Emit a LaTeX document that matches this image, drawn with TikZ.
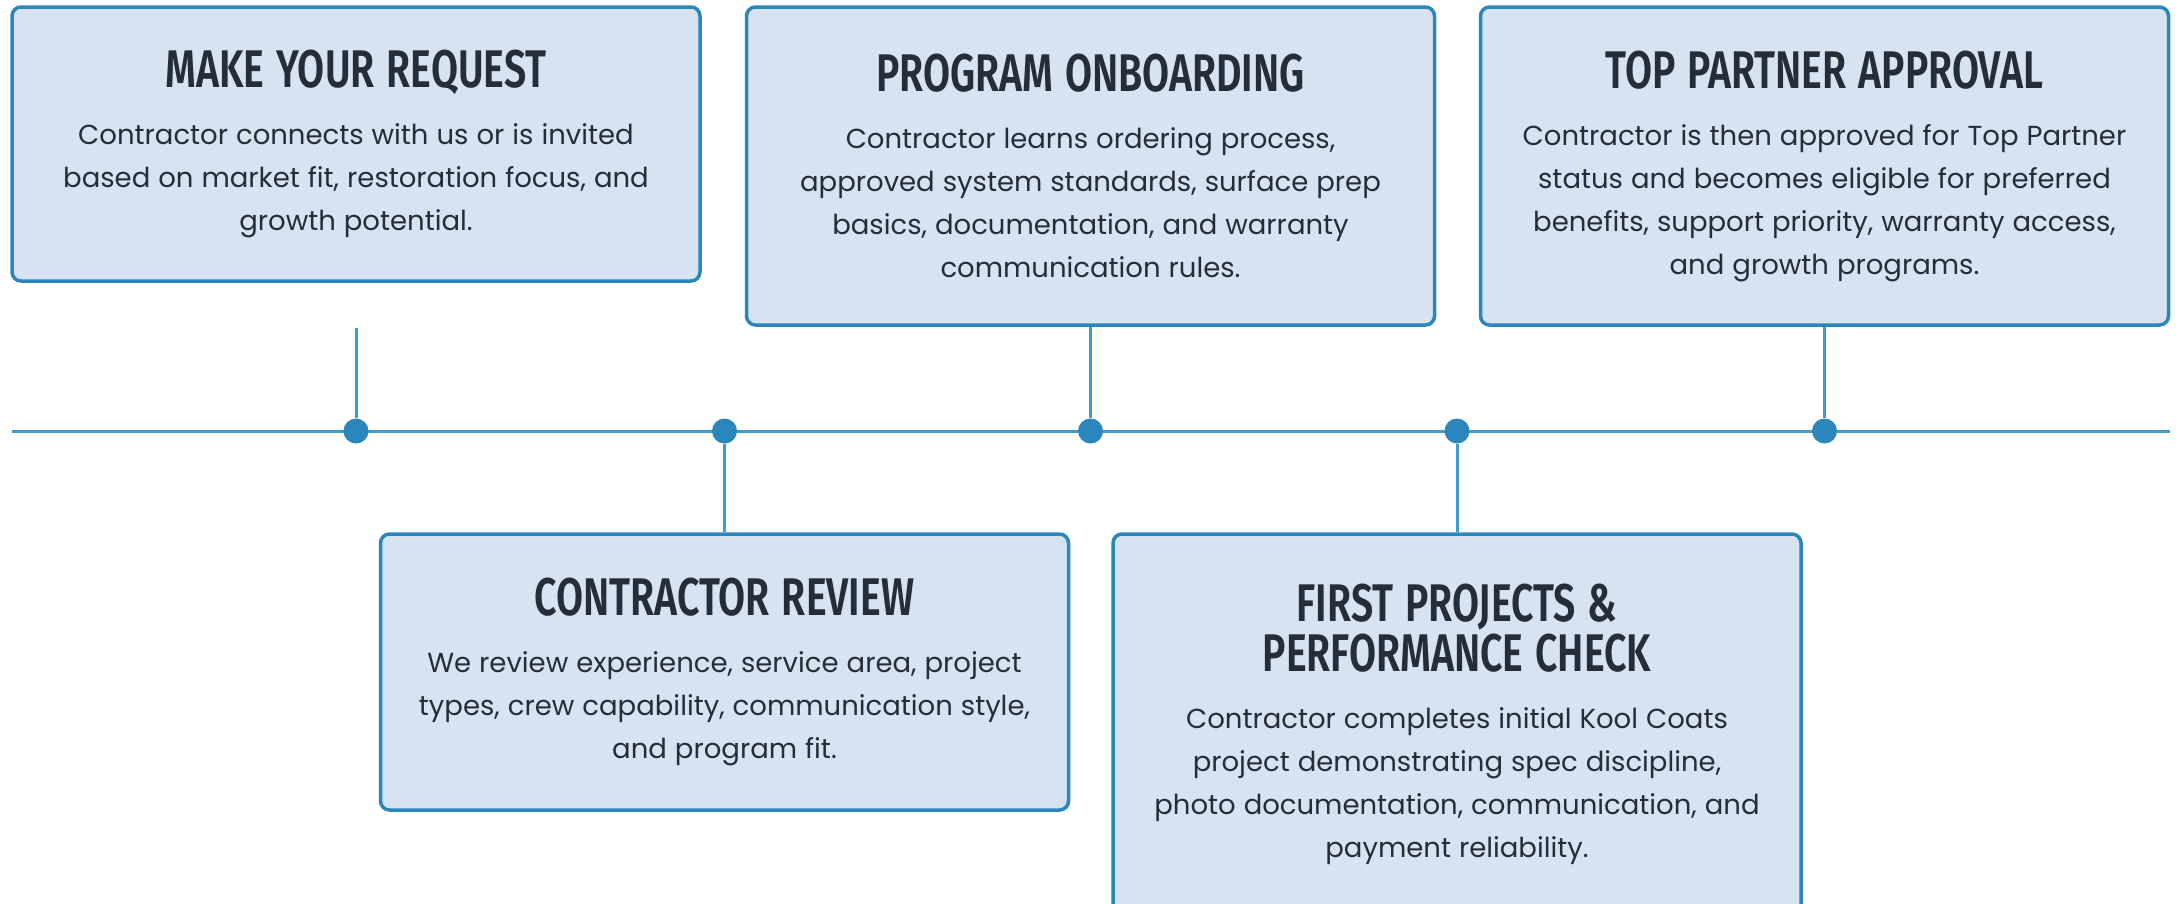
\documentclass[tikz,border=0pt]{standalone}
\usepackage{fontspec}
\setmainfont{Poppins}
\newfontfamily\headfont[FakeStretch=0.74, BoldFont={Fira Sans SemiBold}]{Fira Sans}
\definecolor{boxfill}{HTML}{D7E3F1}
\definecolor{boxline}{HTML}{2B86BC}
\definecolor{axisline}{HTML}{3D9BD2}
\definecolor{inkdark}{HTML}{252D3A}

\newcommand{\steptitle}[1]{{\headfont\bfseries\fontsize{53}{50}\selectfont\spaceskip=12pt #1\par}}
\newcommand{\stepbody}[1]{{\vspace{14pt}\fontsize{27.5}{43}\selectfont\spaceskip=8pt #1\par}}

\tikzset{
  stepbox/.style={draw=boxline, line width=3.5pt, fill=boxfill, rounded corners=9pt,
    minimum width=688pt, text width=670pt, align=center, text=inkdark, inner sep=0pt},
  stem/.style={draw=axisline, line width=3pt},
  milestone/.style={circle, fill=boxline, minimum size=25pt, inner sep=0pt}
}

\begin{document}
\begin{tikzpicture}[x=1pt, y=1pt]
  \useasboundingbox (0,0) rectangle (2181,-903);
  \clip (0,0) rectangle (2181,-903);

  % timeline
  \coordinate (tl-start) at (12,-431);
  \coordinate (tl-end) at (2170,-431);
  \draw[stem] (tl-start) -- (tl-end);

  % boxes
  \node[stepbox, minimum height=274pt] (request) at (356,-144) {%
    \steptitle{MAKE YOUR REQUEST}%
    \stepbody{Contractor connects with us or is invited\\based on market fit, restoration focus, and\\growth potential.}};
  \node[stepbox, minimum height=318pt] (onboard) at (1090.5,-166) {%
    \steptitle{PROGRAM ONBOARDING}%
    \stepbody{Contractor learns ordering process,\\approved system standards, surface prep\\basics, documentation, and warranty\\communication rules.}};
  \node[stepbox, minimum height=318pt] (approval) at (1824.5,-166) {%
    \steptitle{TOP PARTNER APPROVAL}%
    \stepbody{Contractor is then approved for Top Partner\\status and becomes eligible for preferred\\benefits, support priority, warranty access,\\and growth programs.}};
  \node[stepbox, minimum height=276pt] (review) at (724.5,-672) {%
    \steptitle{CONTRACTOR REVIEW}%
    \stepbody{We review experience, service area, project\\types, crew capability, communication style,\\and program fit.}};
  \node[stepbox, minimum height=380pt] (firstproj) at (1457,-724) {%
    \steptitle{FIRST PROJECTS \&\\PERFORMANCE CHECK}%
    \stepbody{Contractor completes initial Kool Coats\\project demonstrating spec discipline,\\photo documentation, communication, and\\payment reliability.}};

  % milestones on the line
  \node[milestone] (m1) at (request.center |- tl-start) {};
  \node[milestone] (m2) at (review.center |- tl-start) {};
  \node[milestone] (m3) at (onboard.center |- tl-start) {};
  \node[milestone] (m4) at (firstproj.center |- tl-start) {};
  \node[milestone] (m5) at (approval.center |- tl-start) {};

  % stems
  \coordinate (s1) at (356,-328);
  \draw[stem] (s1) -- (m1);
  \draw[stem] (m2) -- (review.north);
  \draw[stem] (onboard.south) -- (m3);
  \draw[stem] (m4) -- (firstproj.north);
  \draw[stem] (approval.south) -- (m5);
\end{tikzpicture}
\end{document}
